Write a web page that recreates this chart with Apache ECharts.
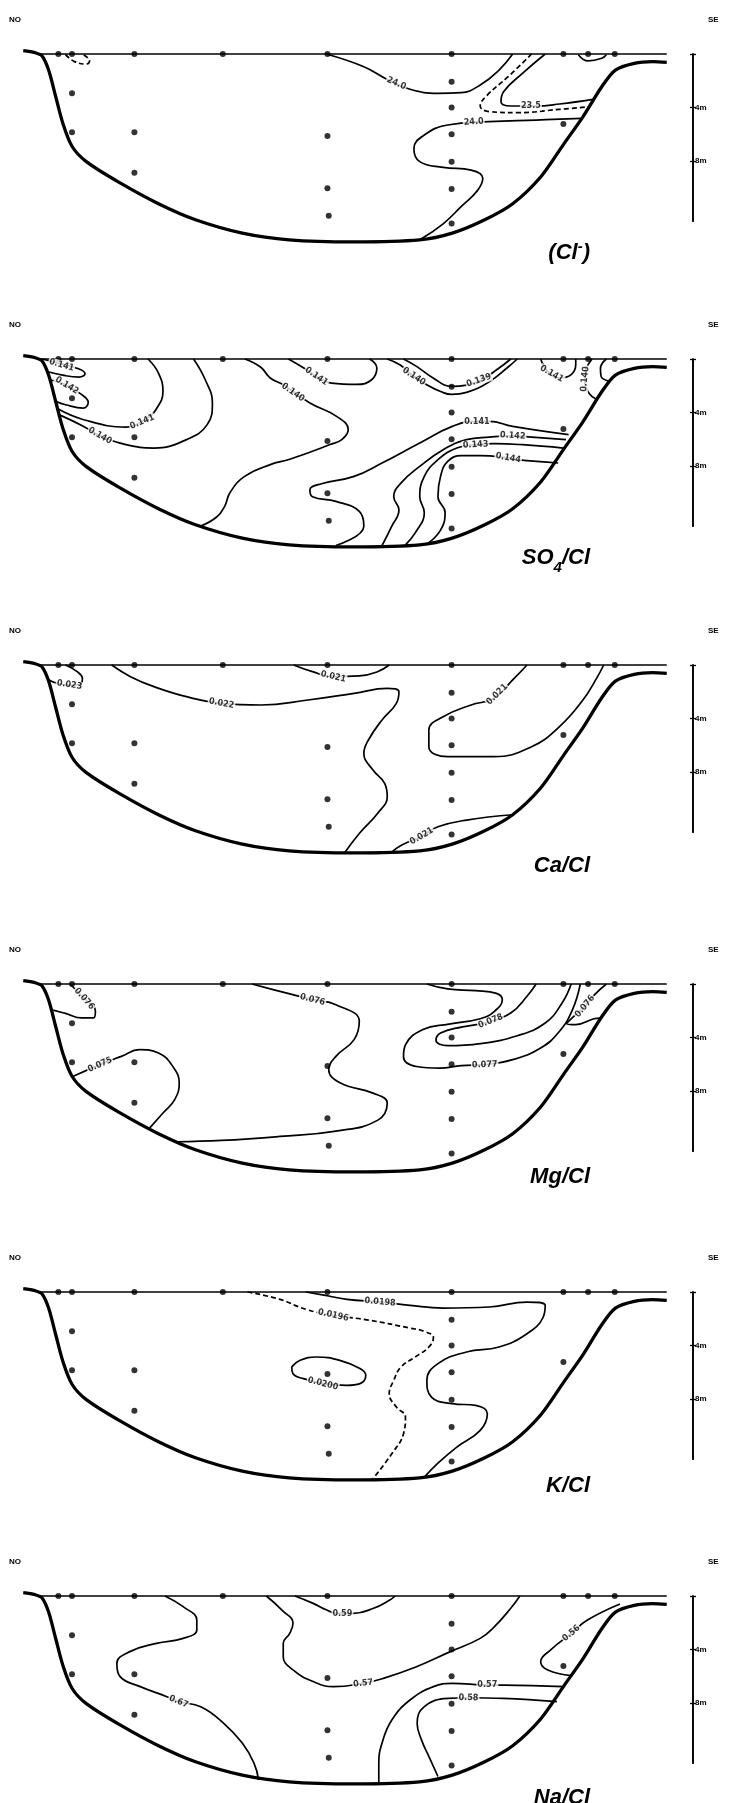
<!DOCTYPE html>
<html><head><meta charset="utf-8">
<script src="https://cdn.jsdelivr.net/npm/echarts@6/dist/echarts.min.js"></script>
<style>html,body{margin:0;padding:0;background:#fff}#c{width:731px;height:1803px}</style>
</head><body><div id="c"></div>
<script>
// ---------- DATA (distance along section 0-100, depth in m) ----------
const basinOutline = [[0.5,-0.25],[2.3,-0.1],[3.4,0.15],[4.4,1.2],[5.5,3.2],[6.6,5.2],[8.0,6.9],[10.2,8.05],[15.6,9.7],[21.3,11.2],[27.0,12.4],[34.2,13.4],[41.4,13.9],[51.4,14.05],[61.5,13.9],[66.5,13.4],[71.5,12.4],[75.8,11.2],[80.1,9.2],[83.7,6.7],[86.6,4.7],[89.5,2.45],[91.6,1.2],[94.5,0.7],[97.3,0.57],[99.5,0.62]];
const surfaceLine = [[2.6,0],[99.5,0]];
const samplePoints = [[5.9,0],[8.0,0],[17.6,0],[31.2,0],[47.3,0],[66.4,0],[83.6,0],[87.4,0],[91.5,0],
  [8.0,2.94],[8.0,5.86],[17.6,5.86],[17.6,8.88],[47.3,6.13],[47.3,10.05],[47.5,12.1],
  [66.4,2.07],[66.4,4.0],[66.4,6.0],[66.4,8.05],[66.4,10.1],[66.4,12.67],[83.6,5.24]];
const depthTicks = [0,4,8];
const depthLabels = [4,8];
const scaleMax = 12.5;
const panelTitles = ['(Cl{sup|-})','SO{sub|4}/Cl','Ca/Cl','Mg/Cl','K/Cl','Na/Cl'];
const endLabels = ['NO','SE'];

// Cl-
const clSolid = [
  [[47.1,0],[52.9,0.95],[56.5,1.9],[60.0,2.64],[64.3,2.94],[67.9,2.89],[70.8,2.32],[73.7,1.2],[75.8,0]],
  [[80.8,0],[77.3,1.45],[74.4,2.82],[74.0,3.57],[75.5,3.89],[79.4,3.89],[83.0,3.74],[88.1,3.39]],
  [[86.4,4.81],[79.4,4.94],[72.2,5.06],[65.8,5.31],[62.2,6.06],[60.6,7.06],[61.5,8.05],[65.1,8.48],[69.4,8.68],[71.2,9.3],[70.4,10.2],[67.9,11.4],[65.1,12.7],[61.5,13.9]],
  [[85.9,0.05],[87.4,0.52],[89.5,0.32],[90.2,0.05]]
];
const clDashed = [
  [[78.7,0],[75.1,1.7],[71.9,3.07],[70.8,3.89],[72.2,4.31],[76.5,4.39],[83.0,4.14],[87.5,3.95]],
  [[7.0,0.05],[8.4,0.57],[10.2,0.75],[10.7,0.5],[9.8,0.08]]
];
const clLabels = [['24.0',57.9,2.2],['23.5',78.6,3.89],['24.0',69.8,5.08]];

// SO4/Cl
const so4Solid = [
  [[3.4,0],[6.2,0.35],[9.1,0.75],[10.0,1.1],[9.1,1.35],[7.0,1.25],[4.3,0.95]],
  [[4.6,1.55],[7.0,1.92],[9.5,2.67],[10.5,3.24],[9.7,3.67],[7.0,3.42],[5.5,3.17]],
  [[5.6,3.67],[9.8,4.54],[16.3,5.09],[19.3,4.49],[20.9,3.79],[22.0,2.42],[21.3,1.05],[19.7,0]],
  [[6.0,4.16],[9.8,5.04],[12.3,5.74],[16.3,6.41],[20.6,6.66],[25.6,6.03],[28.8,4.91],[29.6,3.29],[28.5,1.55],[26.7,0]],
  [[41.3,0],[44.1,0.8],[45.6,1.3],[47.9,1.8],[51.8,1.9],[54.1,1.55],[54.9,0.67],[53.8,0]],
  [[34.6,0],[37,0.6],[38.5,1.42],[40.5,1.92],[44.6,3.29],[48.7,4.29],[50.5,5.27],[49.5,6.03],[47.7,6.4],[41.5,7.5],[38.5,7.9],[34.5,8.8],[32.3,10.0],[31.5,11.0],[30.3,11.8],[27.8,12.5]],
  [[56.5,0],[58.5,0.45],[60.3,1.2],[62.5,1.9],[64.8,2.45],[66.4,2.65],[68.7,2.5],[72.2,1.7],[75.1,0.6],[76.5,0]],
  [[59.0,0],[61.0,0.55],[63.5,1.4],[66.4,2.05],[68.7,1.95],[70.8,1.6],[73.5,0.75],[75.5,0]],
  [[80.1,0],[81.2,0.92],[83.0,1.42],[84.8,1.17],[85.5,0.42],[85.5,0]],
  [[88.0,0],[87.1,0.8],[86.9,1.8],[87.6,2.6],[88.6,3.0]],
  [[90.2,0],[89.3,0.7],[89.4,1.3],[90.6,1.65]],
  [[84.4,5.66],[75.8,5.04],[72.2,4.66],[70.1,4.66],[66.5,5.04],[61.5,6.28],[55.7,7.78],[51.4,8.78],[46.4,9.33],[44.6,9.78],[45.0,10.3],[48.6,10.65],[52.2,11.4],[52.9,12.5],[48.6,13.95]],
  [[84.0,6.03],[78.7,5.84],[75.8,5.74],[72.2,5.84],[68.7,6.03],[65.1,6.78],[61.5,8.03],[58.6,9.28],[57.5,10.3],[58.3,11.3],[57.2,12.5],[55.7,13.95]],
  [[83.6,6.66],[77.3,6.41],[73.0,6.33],[70.1,6.41],[67.2,6.66],[64.3,7.53],[62.2,8.78],[61.5,10.3],[62.2,11.5],[60.8,13.0],[59.3,13.9]],
  [[82.8,7.78],[76.5,7.53],[75.1,7.4],[70.8,7.23],[67.9,7.23],[65.8,7.66],[64.7,8.78],[64.3,10.3],[65.4,11.5],[64.7,12.8],[62.6,13.85]]
];
const so4Dashed = [];
const so4Labels = [['0.141',6.4,0.45],['0.142',7.2,1.98],['0.141',18.8,4.7],['0.140',12.3,5.74],['0.141',45.6,1.3],['0.140',42.0,2.5],['0.140',60.6,1.3],['0.139',70.6,1.6],['0.141',81.8,1.1],['0.140',86.9,1.5],['0.141',70.3,4.66],['0.142',75.8,5.74],['0.143',70.1,6.41],['0.144',75.1,7.4]];

// Ca/Cl
const caSolid = [
  [[7.0,0],[8.8,0.5],[9.6,1.0],[9.3,1.45],[7.6,1.5],[5.6,1.35],[4.4,1.1]],
  [[14.1,0],[17.0,0.87],[20.6,1.62],[25.6,2.37],[31.0,2.87],[37.1,2.99],[44.3,2.62],[51.4,2.12],[56.5,1.75],[58.3,2.0],[57.9,2.87],[55.7,4.11],[53.6,5.61],[52.9,6.61],[54.3,7.86],[56.1,8.85],[56.5,9.85],[55.0,11.1],[52.2,12.6],[50.0,14.0]],
  [[42.1,0],[45.0,0.5],[48.2,0.87],[52.2,0.82],[55.0,0.5],[56.8,0]],
  [[78.0,0],[75.8,1.12],[72.9,2.49],[69.4,2.99],[65.1,3.87],[62.9,4.86],[62.9,6.11],[65.8,6.86],[72.9,6.86],[78.7,6.11],[83.0,4.61],[86.6,2.62],[88.7,1.0],[89.8,0]],
  [[75.8,11.2],[68.7,11.6],[64.3,12.1],[61.8,12.8],[58.6,13.5],[57.2,14.0]]
];
const caDashed = [];
const caLabels = [['0.023',7.6,1.48],['0.022',31.0,2.87],['0.021',48.2,0.87],['0.021',73.4,2.2],['0.021',61.8,12.8]];

// Mg/Cl
const mgSolid = [
  [[7.7,0],[9.8,1.05],[11.6,2.04],[11.3,2.54],[9.5,2.54],[7.0,2.2],[5.1,1.95]],
  [[8.2,6.9],[12.3,6.03],[15.6,5.41],[18.4,4.91],[21.3,5.16],[23.5,6.16],[24.5,7.41],[23.8,8.65],[22.0,9.65],[19.9,10.8]],
  [[35.7,0],[40.0,0.55],[45.0,1.17],[48.6,1.55],[52.2,2.79],[51.4,4.16],[48.6,5.41],[47.5,6.41],[49.3,7.41],[54.3,8.16],[56.5,8.9],[55.0,10.2],[48.6,11.0],[40.0,11.4],[31.0,11.7],[24.1,11.8]],
  [[62.6,0],[65.8,0.37],[70.1,0.5],[73.3,0.7],[74.2,1.17],[73.0,2.04],[70.8,2.6],[66.0,3.0],[62.0,3.4],[59.3,4.55],[59.0,5.42],[61.0,6.17],[64.6,6.29],[67.9,6.1],[71.5,6.03],[75.8,5.66],[80.1,4.79],[83.0,3.54],[85.0,1.92],[86.2,0]],
  [[79.4,0],[78.0,0.92],[75.5,2.17],[71.9,2.87],[67.9,3.22],[64.7,3.67],[64.0,4.21],[65.8,4.61],[70.8,4.46],[76.5,3.87],[80.8,2.92],[83.4,1.42],[84.8,0]],
  [[90.2,0],[88.4,0.8],[86.9,1.67],[85.2,2.42],[84.1,2.97],[85.5,3.04],[88.3,2.6],[89.2,2.55]]
];
const mgDashed = [];
const mgLabels = [['0.076',9.9,1.1],['0.075',12.3,6.03],['0.076',45.0,1.17],['0.078',72.4,2.78],['0.077',71.5,6.03],['0.076',86.9,1.67]];

// K/Cl
const kSolid = [
  [[44.0,0],[47.5,0.3],[50.3,0.55],[55.4,0.75],[60.0,1.0],[65.1,1.2],[72.2,1.12],[78.0,0.75],[80.8,1.0],[80.5,1.87],[78.0,3.12],[73.7,4.11],[68.7,4.49],[64.3,5.36],[62.6,6.61],[63.3,7.86],[66.5,8.35],[70.1,8.48],[71.9,9.1],[70.8,10.35],[67.2,11.6],[64.3,12.8],[62.2,13.85]],
  [[41.8,5.6],[43.1,5.11],[45.6,4.86],[49.2,5.11],[52.3,5.73],[53.2,6.23],[52.3,6.85],[50.3,6.98],[46.7,6.85],[43.6,6.48],[42.0,6.11],[41.8,5.6]]
];
const kDashed = [
  [[35.0,0],[40.0,0.55],[44.0,1.3],[48.2,1.74],[53.6,2.1],[60.0,2.7],[62.2,2.95],[63.6,3.4],[62.9,4.11],[60.8,4.86],[58.6,5.61],[57.5,6.61],[56.8,7.61],[57.9,8.6],[59.3,9.35],[59.0,10.6],[57.2,12.1],[54.3,13.96]]
];
const kLabels = [['0.0198',55.4,0.75],['0.0196',48.2,1.74],['0.0200',46.6,6.86]];

// Na/Cl
const naSolid = [
  [[22.3,0],[25.1,0.8],[27.2,1.8],[27.2,2.54],[25.1,3.17],[21.0,3.54],[16.9,4.16],[14.9,5.04],[15.4,6.03],[18.5,6.78],[22.6,7.53],[24.4,7.9],[27.8,8.28],[31.3,9.5],[34.2,11.0],[36.0,12.5],[36.7,13.75]],
  [[42.3,0],[45.1,0.55],[47.2,1.05],[48.7,1.3],[51.3,1.3],[54.4,0.92],[56.9,0.3],[57.7,0]],
  [[37.9,0],[40.3,1.05],[42.0,2.04],[41.5,2.79],[40.5,3.54],[40.5,4.54],[42.0,5.53],[45.1,6.4],[48.2,6.78],[52.8,6.53],[55.9,6.16],[61.0,5.29],[66.2,4.16],[70.8,3.17],[73.0,2.29],[75.5,0.92],[76.9,0]],
  [[83.7,6.78],[74.4,6.66],[71.9,6.66],[66.5,6.53],[63.6,6.78],[60.0,7.78],[57.2,9.28],[55.7,11.0],[55.2,12.5],[55.2,13.95]],
  [[82.6,7.9],[74.4,7.66],[69.0,7.61],[65.8,7.66],[62.2,8.28],[61.1,9.53],[61.8,10.8],[62.9,12.0],[64.3,13.5]],
  [[92.3,0.6],[87.3,1.8],[84.8,2.79],[81.6,4.04],[80.1,4.91],[81.2,5.53],[84.8,5.95]]
];
const naDashed = [];
const naLabels = [['0.67',24.4,7.9],['0.59',49.6,1.32],['0.57',52.8,6.53],['0.57',71.9,6.66],['0.58',69.0,7.61],['0.56',84.8,2.79]];

// ---------- LAYOUT / STYLE ----------
const panelTops = [54, 359, 665, 984, 1292, 1596];
const titleTops = [234, 536, 847, 1158, 1467, 1779];
const endLabelOffset = 38;
const pxPerM = 13.37;
const solidSets = [clSolid, so4Solid, caSolid, mgSolid, kSolid, naSolid];
const dashedSets = [clDashed, so4Dashed, caDashed, mgDashed, kDashed, naDashed];
const labelSets = [clLabels, so4Labels, caLabels, mgLabels, kLabels, naLabels];
const FONT = '"Liberation Sans", Arial, sans-serif';
const NARROW = '"Liberation Sans Narrow", "DejaVu Sans Condensed", "Liberation Sans", sans-serif';

const chart = echarts.init(document.getElementById('c'), null, {renderer: 'canvas'});

function buildOption(rotations) {
  const grid = [], xAxis = [], yAxis = [], series = [], title = [], graphic = [];
  panelTops.forEach((top, i) => {
    grid.push({left: 20, width: 650, top: top, height: scaleMax * pxPerM});
    xAxis.push({gridIndex: i, type: 'value', min: 0, max: 100, show: false});
    const yBase = {gridIndex: i, type: 'value', min: 0, max: scaleMax, inverse: true, position: 'right', offset: 23,
      splitLine: {show: false},
      axisLine: {show: true, onZero: false, lineStyle: {color: '#000', width: 1.6}}};
    yAxis.push(Object.assign({}, yBase, {
      axisTick: {show: true, customValues: depthTicks, length: 3, inside: false, lineStyle: {color: '#000', width: 1.3}},
      axisLabel: {show: true, customValues: depthLabels, formatter: v => v + 'm', fontSize: 8, fontWeight: 'bold', color: '#000', margin: 2, fontFamily: FONT}
    }));
    yAxis.push(Object.assign({}, yBase, {
      axisTick: {show: true, customValues: depthTicks, length: 3, inside: true, lineStyle: {color: '#000', width: 1.3}},
      axisLabel: {show: false}
    }));
    const ax = {xAxisIndex: i, yAxisIndex: 2 * i};
    series.push(Object.assign({type: 'line', data: basinOutline, smooth: 0.3, symbol: 'none', clip: false, silent: true, z: 3,
      lineStyle: {color: '#000', width: 3.3}}, ax));
    series.push(Object.assign({type: 'line', data: surfaceLine, symbol: 'none', clip: false, silent: true, z: 3,
      lineStyle: {color: '#000', width: 1.7}}, ax));
    solidSets[i].forEach(c => series.push(Object.assign({type: 'line', data: c, smooth: 0.45, symbol: 'none', clip: false, silent: true, z: 4,
      lineStyle: {color: '#000', width: 1.7}}, ax)));
    dashedSets[i].forEach(c => series.push(Object.assign({type: 'line', data: c, smooth: 0.45, symbol: 'none', clip: false, silent: true, z: 4,
      lineStyle: {color: '#000', width: 1.7, type: [5, 3]}}, ax)));
    series.push(Object.assign({type: 'scatter', data: samplePoints, symbolSize: 6, clip: false, silent: true, z: 6,
      itemStyle: {color: '#000'}}, ax));
    series.push(Object.assign({type: 'scatter', clip: false, silent: true, z: 8, symbolSize: 0,
      data: labelSets[i].map((l, j) => ({name: l[0], value: [l[1], l[2]], label: {rotate: rotations ? rotations[i][j] : 0}})),
      label: {show: true, position: 'inside', formatter: '{b}', fontSize: 9, fontWeight: 'bold', color: '#000',
        fontFamily: NARROW, backgroundColor: '#fff', padding: [0, 1]}}, ax));
    title.push({text: panelTitles[i], right: 136, top: titleTops[i],
      textStyle: {fontSize: 22, fontStyle: 'italic', fontWeight: 'bold', color: '#000', fontFamily: FONT, lineHeight: 28,
        rich: {sub: {fontSize: 15, fontStyle: 'italic', fontWeight: 'bold', fontFamily: FONT, verticalAlign: 'bottom', lineHeight: 34},
               sup: {fontSize: 15, fontWeight: 'bold', fontFamily: FONT, verticalAlign: 'top', lineHeight: 28}}}});
    graphic.push({type: 'text', left: 9, top: top - endLabelOffset, style: {text: endLabels[0], fontSize: 8, fontWeight: 'bold', fill: '#000', fontFamily: FONT}});
    graphic.push({type: 'text', left: 708, top: top - endLabelOffset, style: {text: endLabels[1], fontSize: 8, fontWeight: 'bold', fill: '#000', fontFamily: FONT}});
  });
  return {animation: false, backgroundColor: '#fff', grid, xAxis, yAxis, series, title, graphic};
}

chart.setOption(buildOption(null));

// Rotate each label along the nearest contour segment (pixel space via the chart's scales)
const rotations = panelTops.map((t, i) => {
  const finder = {xAxisIndex: i, yAxisIndex: 2 * i};
  const lines = solidSets[i].concat(dashedSets[i]).map(c => c.map(p => chart.convertToPixel(finder, p)));
  return labelSets[i].map(l => {
    const q = chart.convertToPixel(finder, [l[1], l[2]]);
    let best = Infinity, ang = 0;
    lines.forEach(pts => {
      for (let k = 0; k < pts.length - 1; k++) {
        const a = pts[k], b = pts[k + 1];
        const dx = b[0] - a[0], dy = b[1] - a[1];
        const len2 = dx * dx + dy * dy || 1;
        let tt = ((q[0] - a[0]) * dx + (q[1] - a[1]) * dy) / len2;
        tt = Math.max(0, Math.min(1, tt));
        const px = a[0] + tt * dx, py = a[1] + tt * dy;
        const d = Math.hypot(q[0] - px, q[1] - py);
        if (d < best) { best = d; ang = Math.atan2(dy, dx) * 180 / Math.PI; }
      }
    });
    if (ang > 90) ang -= 180;
    if (ang < -90) ang += 180;
    return -ang;
  });
});
chart.setOption(buildOption(rotations));
</script>
</body></html>
